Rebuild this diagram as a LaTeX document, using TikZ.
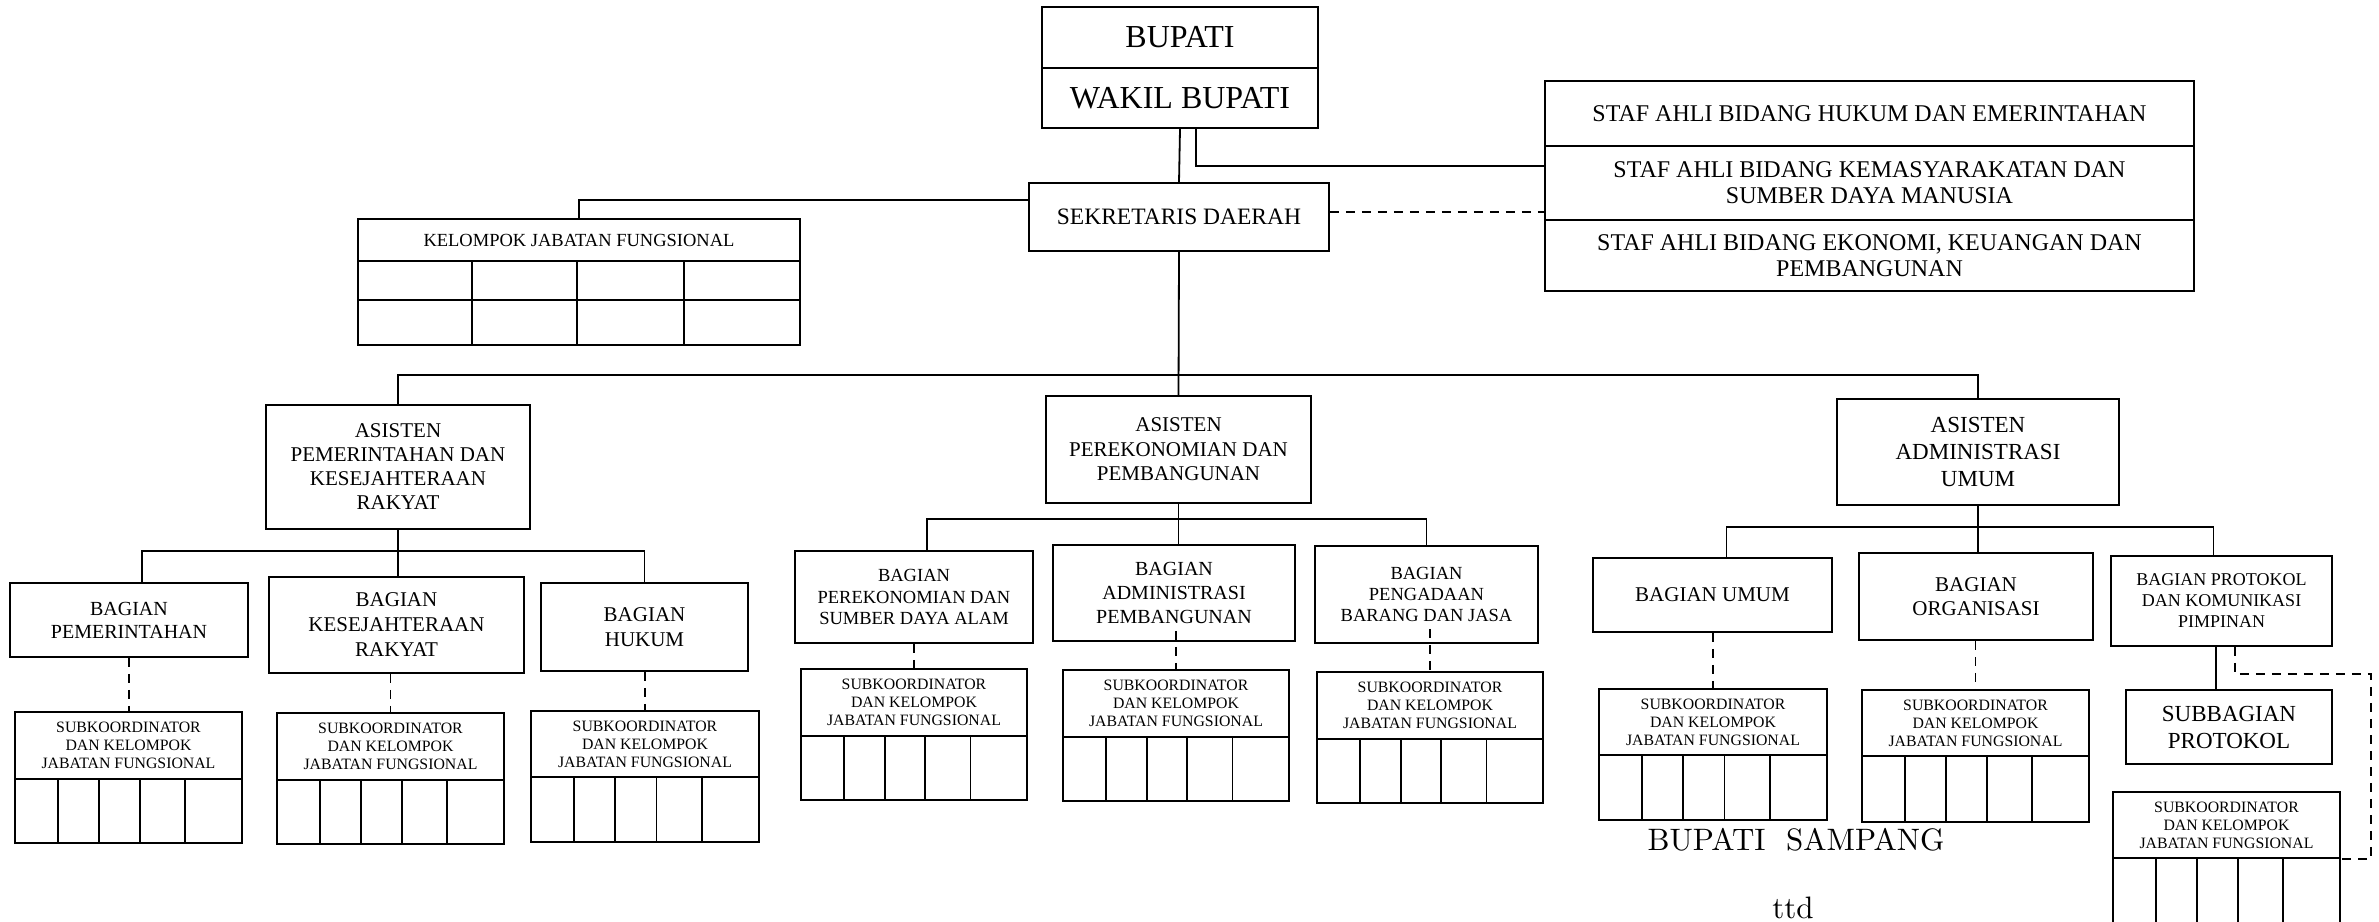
\documentclass[tikz,border=0pt]{standalone}
\usepackage{fontspec}
\setmainfont{Liberation Serif}
\newfontfamily\lmfont{lmroman10-regular}[Extension=.otf]
\newcommand\fsz[2]{\fontsize{#1}{#2}\selectfont}
% \bx{style}{name}{x1}{y1}{x2}{y2}{text}
\newcommand\bx[7]{\node[#1, minimum width={(#5)-(#3)}, minimum height={(#6)-(#4)}] (#2) at ({((#3)+(#5))/2},{((#4)+(#6))/2}) {#7};}
% \subk{name}{x1}{y1}{x2}{ydiv}{y2}
\newcommand\subk[6]{%
  \bx{subh}{#1}{#2}{#3}{#4}{#5}{SUBKOORDINATOR\\DAN KELOMPOK\\JABATAN FUNGSIONAL}
  \bx{box}{#1c}{#2}{#5}{#4}{#6}{}
  \foreach \f in {0.19,0.37,0.55,0.75}{\draw[ln] ({#2+\f*(#4-#2)},#5) -- ({#2+\f*(#4-#2)},#6);}
}
\tikzset{
  ln/.style={line width=1.8pt},
  dl/.style={line width=1.8pt, dash pattern=on 9pt off 7pt},
  box/.style={draw, line width=1.8pt, rectangle, inner sep=0pt, align=center},
  subh/.style={box, font=\fsz{15.8}{18}}
}
\begin{document}
\begin{tikzpicture}[x=1pt,y=-1pt]
\useasboundingbox (0,0) rectangle (2379,921);
\fill[white] (0,0) rectangle (2379,921);

% top
\bx{box,font=\fsz{32}{36}}{bup}{1042}{7}{1318}{68}{BUPATI}
\bx{box,font=\fsz{32}{36}}{wak}{1042}{68}{1318}{128}{WAKIL BUPATI}
\bx{box,font=\fsz{23.5}{26}}{sek}{1029}{183}{1329}{251}{SEKRETARIS DAERAH}
\bx{box,font=\fsz{24}{26}}{sa1}{1545}{81}{2194}{146}{STAF AHLI BIDANG HUKUM DAN EMERINTAHAN}
\bx{box,font=\fsz{24}{26}}{sa2}{1545}{146}{2194}{220}{STAF AHLI BIDANG KEMASYARAKATAN DAN\\SUMBER DAYA MANUSIA}
\bx{box,font=\fsz{24}{26}}{sa3}{1545}{220}{2194}{291}{STAF AHLI BIDANG EKONOMI, KEUANGAN DAN\\PEMBANGUNAN}

% kelompok jabatan fungsional
\bx{box,font=\fsz{18.5}{20}}{kel}{358}{219}{800}{261}{KELOMPOK JABATAN FUNGSIONAL}
\bx{box}{kelc}{358}{261}{800}{345}{}
\draw[ln] (358,300) -- (800,300);
\foreach \cx in {472,577,684}{\draw[ln] (\cx,261) -- (\cx,345);}

% asisten
\bx{box,font=\fsz{21}{24}}{as1}{266}{405}{530}{529}{ASISTEN\\PEMERINTAHAN DAN\\KESEJAHTERAAN\\RAKYAT}
\bx{box,font=\fsz{21}{24.5}}{as2}{1046}{396}{1311}{503}{ASISTEN\\PEREKONOMIAN DAN\\PEMBANGUNAN}
\bx{box,font=\fsz{23}{27}}{as3}{1837}{399}{2119}{505}{ASISTEN\\ADMINISTRASI\\UMUM}

% bagian
\bx{box,font=\fsz{20}{23}}{b11}{10}{583}{248}{657}{BAGIAN\\PEMERINTAHAN}
\bx{box,font=\fsz{21}{25}}{b12}{269}{577}{524}{673}{BAGIAN\\KESEJAHTERAAN\\RAKYAT}
\bx{box,font=\fsz{21}{25}}{b13}{541}{583}{748}{671}{BAGIAN\\HUKUM}
\bx{box,font=\fsz{18.5}{21.5}}{b21}{795}{551}{1033}{643}{BAGIAN\\PEREKONOMIAN DAN\\SUMBER DAYA ALAM}
\bx{box,font=\fsz{20}{24}}{b22}{1053}{545}{1295}{641}{BAGIAN\\ADMINISTRASI\\PEMBANGUNAN}
\bx{box,font=\fsz{18.5}{21}}{b23}{1315}{546}{1538}{643}{BAGIAN\\PENGADAAN\\BARANG DAN JASA}
\bx{box,font=\fsz{21}{24}}{b31}{1593}{558}{1832}{632}{BAGIAN UMUM}
\bx{box,font=\fsz{21}{24.5}}{b32}{1859}{553}{2093}{640}{BAGIAN\\ORGANISASI}
\bx{box,font=\fsz{18}{21}}{b33}{2111}{556}{2332}{646}{BAGIAN PROTOKOL\\DAN KOMUNIKASI\\PIMPINAN}
\bx{box,font=\fsz{23}{27}}{sbp}{2126}{690}{2332}{764}{SUBBAGIAN\\PROTOKOL}

% subkoordinator boxes
\subk{s11}{15}{712}{242}{779}{843}
\subk{s12}{277}{713}{504}{780}{844}
\subk{s13}{531}{711}{759}{777}{842}
\subk{s21}{801}{669}{1027}{736}{800}
\subk{s22}{1063}{670}{1289}{737}{801}
\subk{s23}{1317}{672}{1543}{739}{803}
\subk{s31}{1599}{689}{1827}{755}{820}
\subk{s32}{1862}{690}{2089}{756}{822}
\subk{s33}{2113}{792}{2340}{858}{935}

% signature
\node[font=\lmfont\fsz{31}{36}, anchor=base, inner sep=0pt] (sig) at (1796,850) {BUPATI\ \ SAMPANG};
\node[font=\lmfont\fsz{31}{36}, anchor=base, inner sep=0pt] (ttd) at (1793,918) {ttd};

% connectors top
\draw[ln] (wak.south) -- (sek.north);
\draw[ln] ([xshift=16pt]wak.south) |- ([yshift=17pt]sa2.west);
\draw[dl] ([yshift=5pt]sek.east) -- ([yshift=5pt]sek.east -| sa2.west);
\draw[ln] ([yshift=17pt]sek.west) -| (kel.north);
\coordinate (bar) at (1181,375);
\draw[ln] (sek.south) -- (as2.north);
\draw[ln] (as1.north) |- (bar) -| (as3.north);

% asisten 1 branch
\coordinate (r1) at (0,551);
\draw[ln] (as1.south) -- (as1.south |- b12.north);
\coordinate (p1) at ([xshift=13pt]b11.north);
\draw[ln] (p1) |- (r1 -| b13.north) -- (b13.north);

% asisten 2 branch
\coordinate (r2) at (0,519);
\draw[ln] (as2.south) -- (as2.south |- b22.north);
\coordinate (p2) at ([xshift=13pt]b21.north);
\draw[ln] (p2) |- (r2 -| b23.north) -- (b23.north);

% asisten 3 branch
\coordinate (r3) at (0,527);
\draw[ln] (as3.south) -- (as3.south |- b32.north);
\coordinate (p3) at ([xshift=14pt]b31.north);
\coordinate (p4) at ([xshift=-8pt]b33.north);
\draw[ln] (p3) |- (r3 -| p4) -- (p4);

% protokol
\coordinate (p5) at ([xshift=-5.5pt]b33.south);
\draw[ln] (p5) -- (p5 |- sbp.north);
\coordinate (p6) at ([xshift=13.5pt]b33.south);
\coordinate (e1) at (2371,674);
\draw[dl] (p6) |- (e1) |- (s33.south east);

% dashed to subkoordinator
\draw[dl] (b11.south) -- (b11.south |- s11.north);
\draw[dl] (s12.north |- b12.south) -- (s12.north);
\draw[dl] (s13.north |- b13.south) -- (s13.north);
\draw[dl] (s21.north |- b21.south) -- (s21.north);
\coordinate (q2) at ([yshift=11pt]b22.south);
\draw[dl] (s22.north |- q2) -- (s22.north);
\coordinate (q3) at ([yshift=15pt]b23.south);
\draw[dl] (s23.north |- q3) -- (s23.north);
\draw[dl] (s31.north |- b31.south) -- (s31.north);
\draw[dl] (s32.north |- b32.south) -- (s32.north);
\end{tikzpicture}
\end{document}
